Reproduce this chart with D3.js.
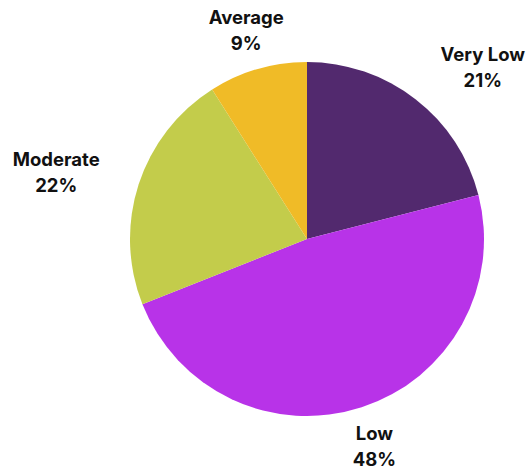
<!DOCTYPE html>
<html>
<head>
<meta charset="utf-8">
<script src="https://cdn.jsdelivr.net/npm/d3@7"></script>
<style>
  body { margin: 0; background: #fff; }
  svg text { font-family: Inter, "Open Sans", sans-serif; font-weight: 700; fill: #111; }
</style>
</head>
<body>
<div id="pie"></div>
<script>
// data
var categories = ["Very Low", "Low", "Moderate", "Average"];
var values = [21, 48, 22, 9];
var colors = ["#52296e", "#b833e8", "#c3cc4b", "#f0bb27"];

var svgWidth = 529;
var svgHeight = 470;
var cx = 307, cy = 239;
var radius = 177;
var labelRadius = 218;

var svg = d3
  .select("#pie")
  .append("svg")
  .attr("width", svgWidth)
  .attr("height", svgHeight);

var chartGroup = svg.append("g").attr("transform", `translate(${cx}, ${cy})`);

var data = categories.map((c, i) => ({ name: c, value: values[i], color: colors[i] }));

var pie = d3.pie().sort(null).value((d) => d.value);
var arc = d3.arc().innerRadius(0).outerRadius(radius);

var arcs = pie(data);

chartGroup
  .selectAll("path")
  .data(arcs)
  .enter()
  .append("path")
  .attr("d", arc)
  .attr("fill", (d) => d.data.color);

// labels, placed on the mid angle outside the pie, both lines centred
var labels = chartGroup
  .selectAll("text.lbl")
  .data(arcs)
  .enter()
  .append("text")
  .attr("class", "lbl")
  .attr("font-size", 18.5)
  .attr("text-anchor", "middle");

labels.append("tspan").attr("class", "l1").attr("x", 0).attr("y", -6).text((d) => d.data.name);
labels.append("tspan").attr("x", 0).attr("y", 20).text((d) => d.data.value + "%");

labels.attr("transform", function (d) {
  var a = (d.startAngle + d.endAngle) / 2;
  var s = Math.sin(a);
  var w = d3.select(this).select(".l1").node().getComputedTextLength();
  var x = labelRadius * s;
  if (s > 0.5) x += w / 2;
  else if (s < -0.5) x -= w / 2;
  return `translate(${x}, ${-labelRadius * Math.cos(a)})`;
});
</script>
</body>
</html>
